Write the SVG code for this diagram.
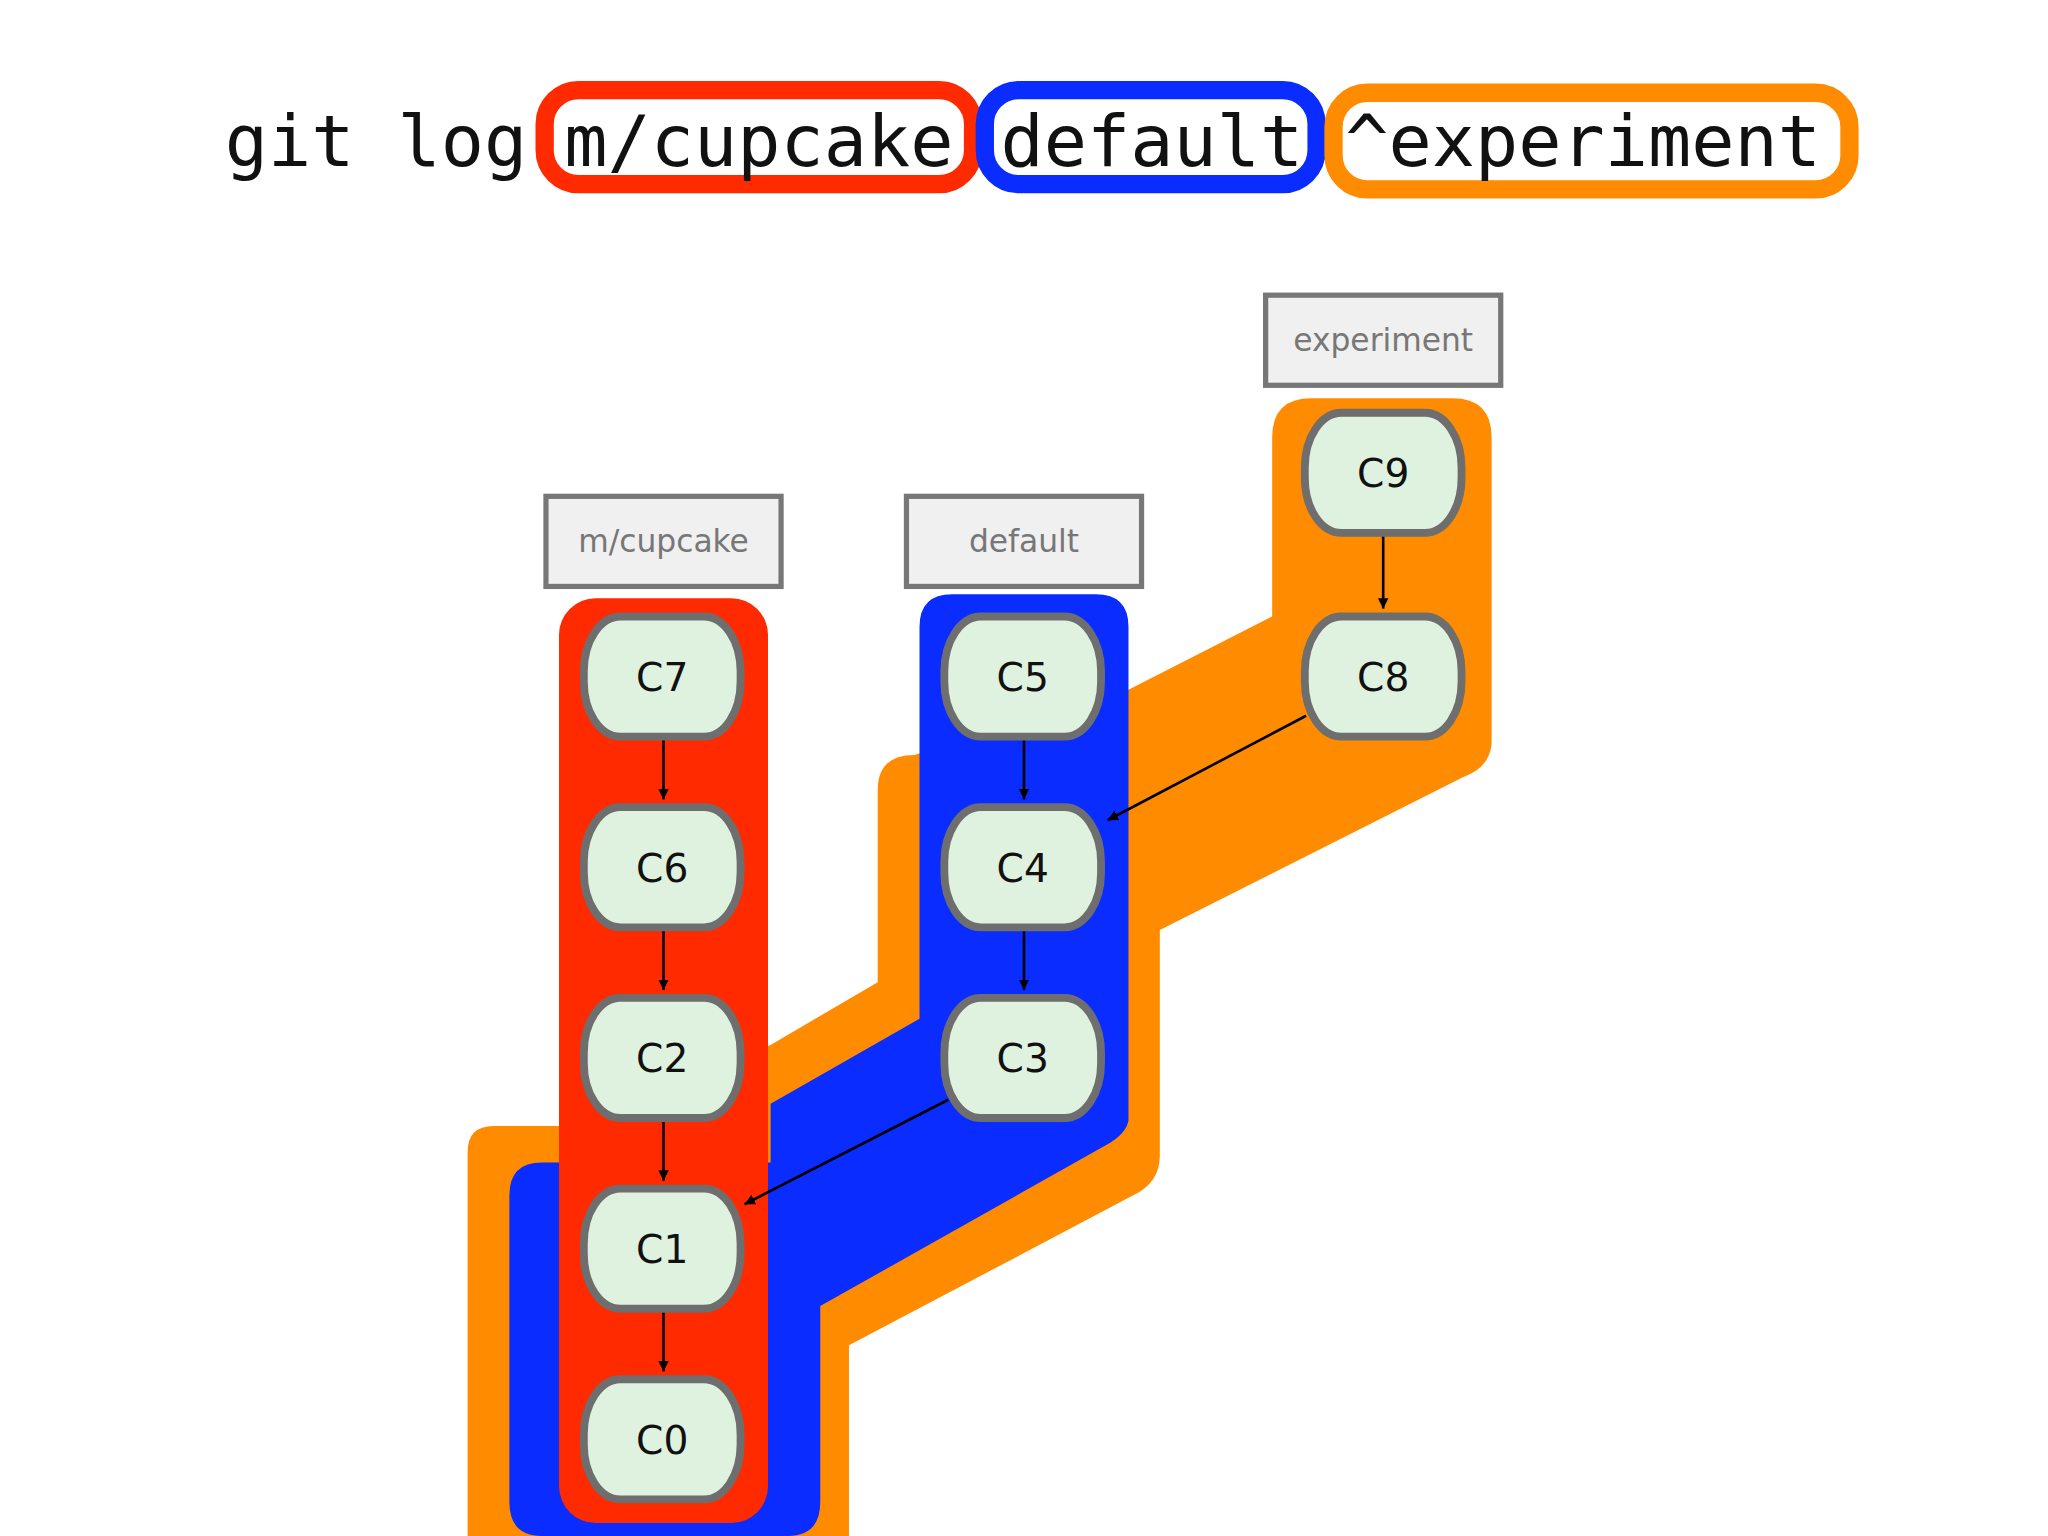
<svg xmlns="http://www.w3.org/2000/svg" width="2048" height="1536" viewBox="0 0 2048 1536">
<style>
.c rect{fill:#dff2df;stroke:#6e6e6e;stroke-width:6}
.c text{font-family:"DejaVu Sans","Noto Sans",sans-serif;font-size:30px;fill:#111;text-anchor:middle}
.l rect{fill:#f0f0f0;stroke:#777;stroke-width:4}
.l text{font-family:"DejaVu Sans","Noto Sans",sans-serif;font-size:24px;fill:#777;text-anchor:middle}
.t{font-family:"DejaVu Sans Mono","Liberation Mono",monospace;font-size:55px;fill:#111}
.e{stroke:#000;stroke-width:2;marker-end:url(#a)}
</style>
<defs><marker id="a" viewBox="0 0 10 10" refX="10" refY="5" markerWidth="8" markerHeight="9" orient="auto" markerUnits="userSpaceOnUse"><path d="M0,0L10,5L0,10Z"/></marker>
<marker id="a2" viewBox="0 0 10 10" refX="10" refY="5" markerWidth="12" markerHeight="20" orient="auto"><path d="M0,0L10,5L0,10Z"/></marker></defs>
<rect width="2048" height="1536" fill="#fff"/>
<g transform="scale(1.30612)">
<g id="title">
<rect x="417" y="69" width="328" height="72" rx="26" fill="#fff" stroke="#ff2a00" stroke-width="14"/>
<rect x="754" y="69" width="254" height="72" rx="26" fill="#fff" stroke="#0a2cff" stroke-width="14"/>
<rect x="1021" y="71" width="395" height="74" rx="26" fill="#fff" stroke="#ff8c00" stroke-width="14"/>
<text class="t" x="172" y="127">git log</text>
<text class="t" x="432" y="127">m/cupcake</text>
<text class="t" x="766" y="127">default</text>
<text class="t" x="1030" y="127">^experiment</text>
</g>
<g id="bands">
<path id="orange" fill="#ff8c00" d="M974,335 Q974,305 1004,305 L1112,305 Q1142,305 1142,335 L1142,570 Q1140,588 1120,595 L888,712 L888,885 Q888,905 868,915 L650,1030 L650,1180 L358,1180 L358,882 Q358,862 378,862 L430,862 L590,800 L672,752 L672,605 Q672,578 700,578 L864,528 L974,472 Z"/>
<path id="blue" fill="#0a2cff" d="M704,480 Q704,455 729,455 L839,455 Q864,455 864,480 L864,858 Q862,868 848,876 L628,1000 L628,1150 Q628,1176 603,1176 L415,1176 Q390,1176 390,1150 L390,915 Q390,890 415,890 L590,890 L590,845 L704,780 Z"/>
<rect id="red" x="428" y="458" width="160" height="708" rx="28" fill="#ff2a00"/>
</g>
<g id="edges">
<line class="e" x1="508" y1="566" x2="508" y2="612"/>
<line class="e" x1="508" y1="712" x2="508" y2="758"/>
<line class="e" x1="508" y1="858" x2="508" y2="904"/>
<line class="e" x1="508" y1="1004" x2="508" y2="1050"/>
<line class="e" x1="784" y1="566" x2="784" y2="612"/>
<line class="e" x1="784" y1="712" x2="784" y2="758"/>
<line class="e" x1="1059" y1="410" x2="1059" y2="466"/>
<line class="e" x1="1000" y1="548" x2="848" y2="628"/>
<line class="e" x1="726" y1="842" x2="570" y2="922"/>
</g>
<g id="l-exp" class="l"><rect x="969" y="226" width="180" height="69"/><text x="1059" y="269">experiment</text></g>
<g id="l-cup" class="l"><rect x="418" y="380" width="180" height="69"/><text x="508" y="423">m/cupcake</text></g>
<g id="l-def" class="l"><rect x="694" y="380" width="180" height="69"/><text x="784" y="423">default</text></g>
<g id="C9" class="c"><rect x="999" y="316" width="120" height="92" rx="28" ry="42"/><text x="1059" y="373">C9</text></g>
<g id="C8" class="c"><rect x="999" y="472" width="120" height="92" rx="28" ry="42"/><text x="1059" y="529">C8</text></g>
<g id="C5" class="c"><rect x="723" y="472" width="120" height="92" rx="28" ry="42"/><text x="783" y="529">C5</text></g>
<g id="C4" class="c"><rect x="723" y="618" width="120" height="92" rx="28" ry="42"/><text x="783" y="675">C4</text></g>
<g id="C3" class="c"><rect x="723" y="764" width="120" height="92" rx="28" ry="42"/><text x="783" y="821">C3</text></g>
<g id="C7" class="c"><rect x="447" y="472" width="120" height="92" rx="28" ry="42"/><text x="507" y="529">C7</text></g>
<g id="C6" class="c"><rect x="447" y="618" width="120" height="92" rx="28" ry="42"/><text x="507" y="675">C6</text></g>
<g id="C2" class="c"><rect x="447" y="764" width="120" height="92" rx="28" ry="42"/><text x="507" y="821">C2</text></g>
<g id="C1" class="c"><rect x="447" y="910" width="120" height="92" rx="28" ry="42"/><text x="507" y="967">C1</text></g>
<g id="C0" class="c"><rect x="447" y="1056" width="120" height="92" rx="28" ry="42"/><text x="507" y="1113">C0</text></g>
</g>
</svg>
